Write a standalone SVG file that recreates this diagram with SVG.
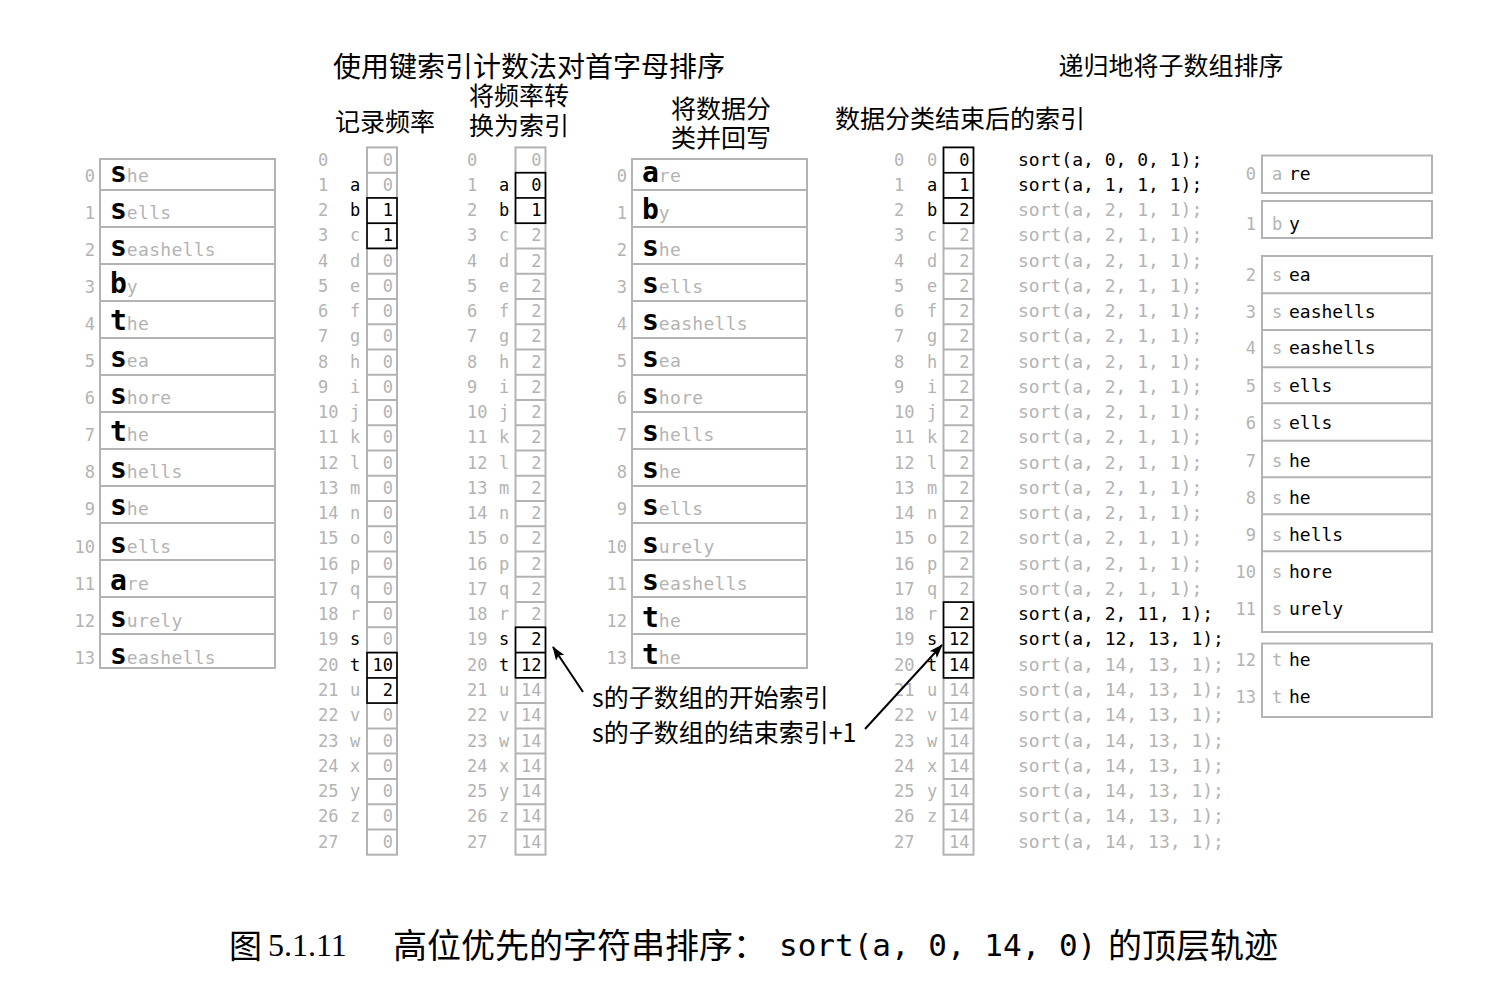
<svg xmlns="http://www.w3.org/2000/svg" xmlns:xlink="http://www.w3.org/1999/xlink" width="1504" height="1000" viewBox="0 0 1504 1000">
<style>
.g{fill:#b3b3b3}
.k{fill:#000}
.m{font-family:"DejaVu Sans Mono","Liberation Mono",monospace}
.n{font-size:17px}
.w{font-size:18px}
.bl{font-size:28px;font-weight:bold;fill:#000}
.rest{font-size:18px;fill:#b3b3b3;letter-spacing:0.3px}
.cj{font-family:"Noto Sans CJK SC","Noto Sans",sans-serif;fill:#000}
.box{fill:none;stroke:#b3b3b3;stroke-width:2}
.hb{fill:none;stroke:#000;stroke-width:1.6}
.e{text-anchor:end}
.c{text-anchor:middle}
.arr{stroke:#000;stroke-width:2;fill:none;marker-end:url(#ah)}
</style>
<defs>
<marker id="ah" markerWidth="14" markerHeight="10" refX="13" refY="5" orient="auto" markerUnits="userSpaceOnUse"><path d="M0,0 L14,5 L0,10 L3,5 z" fill="#000"/></marker>
<g id="grid"><rect class="box" x="0" y="147.4" width="30" height="707.3"/><path class="box" d="M0 172.7H30M0 197.9H30M0 223.2H30M0 248.4H30M0 273.7H30M0 299H30M0 324.2H30M0 349.5H30M0 374.7H30M0 400H30M0 425.3H30M0 450.5H30M0 475.8H30M0 501H30M0 526.3H30M0 551.6H30M0 576.8H30M0 602.1H30M0 627.3H30M0 652.6H30M0 677.9H30M0 703.1H30M0 728.4H30M0 753.6H30M0 778.9H30M0 804.2H30M0 829.4H30"/></g>
</defs>
<rect width="1504" height="1000" fill="#fff"/>

<g id="titles" class="cj">
<text x="529" y="77" font-size="28" class="c">使用键索引计数法对首字母排序</text>
<text x="1171" y="75" font-size="25" class="c">递归地将子数组排序</text>
<text x="385" y="131" font-size="25" class="c">记录频率</text>
<text x="519" y="105" font-size="25" class="c">将频率转</text>
<text x="519" y="135" font-size="25" class="c">换为索引</text>
<text x="721" y="118" font-size="25" class="c">将数据分</text>
<text x="721" y="147" font-size="25" class="c">类并回写</text>
<text x="960" y="128" font-size="25" class="c">数据分类结束后的索引</text>
</g>

<g id="input-array">
<rect class="box" x="100" y="159" width="175" height="509"/>
<path class="box" d="M100 190H275M100 227H275M100 264H275M100 301H275M100 338H275M100 375H275M100 412H275M100 449H275M100 486H275M100 523H275M100 560H275M100 597H275M100 634H275"/>
<text class="m n g e"><tspan x="95" y="181.5">0</tspan><tspan x="95" y="218.6">1</tspan><tspan x="95" y="255.7">2</tspan><tspan x="95" y="292.8">3</tspan><tspan x="95" y="329.9">4</tspan><tspan x="95" y="367">5</tspan><tspan x="95" y="404.1">6</tspan><tspan x="95" y="441.2">7</tspan><tspan x="95" y="478.3">8</tspan><tspan x="95" y="515.4">9</tspan><tspan x="95" y="552.5">10</tspan><tspan x="95" y="589.6">11</tspan><tspan x="95" y="626.7">12</tspan><tspan x="95" y="663.8">13</tspan></text>
<text class="m" x="110" y="181.5"><tspan class="bl">s</tspan><tspan class="rest">he</tspan></text>
<text class="m" x="110" y="218.6"><tspan class="bl">s</tspan><tspan class="rest">ells</tspan></text>
<text class="m" x="110" y="255.7"><tspan class="bl">s</tspan><tspan class="rest">eashells</tspan></text>
<text class="m" x="110" y="292.8"><tspan class="bl">b</tspan><tspan class="rest">y</tspan></text>
<text class="m" x="110" y="329.9"><tspan class="bl">t</tspan><tspan class="rest">he</tspan></text>
<text class="m" x="110" y="367"><tspan class="bl">s</tspan><tspan class="rest">ea</tspan></text>
<text class="m" x="110" y="404.1"><tspan class="bl">s</tspan><tspan class="rest">hore</tspan></text>
<text class="m" x="110" y="441.2"><tspan class="bl">t</tspan><tspan class="rest">he</tspan></text>
<text class="m" x="110" y="478.3"><tspan class="bl">s</tspan><tspan class="rest">hells</tspan></text>
<text class="m" x="110" y="515.4"><tspan class="bl">s</tspan><tspan class="rest">he</tspan></text>
<text class="m" x="110" y="552.5"><tspan class="bl">s</tspan><tspan class="rest">ells</tspan></text>
<text class="m" x="110" y="589.6"><tspan class="bl">a</tspan><tspan class="rest">re</tspan></text>
<text class="m" x="110" y="626.7"><tspan class="bl">s</tspan><tspan class="rest">urely</tspan></text>
<text class="m" x="110" y="663.8"><tspan class="bl">s</tspan><tspan class="rest">eashells</tspan></text>
</g>

<g id="count-frequencies">
<use href="#grid" xlink:href="#grid" x="367"/>
<rect class="hb" x="367" y="197.9" width="30" height="50.5"/><path class="hb" d="M367 223.2H397"/>
<rect class="hb" x="367" y="652.6" width="30" height="50.5"/><path class="hb" d="M367 677.9H397"/>
<text class="m n g"><tspan x="318" y="165.5">0</tspan><tspan x="318" y="190.8">1</tspan><tspan x="318" y="216">2</tspan><tspan x="318" y="241.3">3</tspan><tspan x="318" y="266.5">4</tspan><tspan x="318" y="291.8">5</tspan><tspan x="318" y="317.1">6</tspan><tspan x="318" y="342.3">7</tspan><tspan x="318" y="367.6">8</tspan><tspan x="318" y="392.8">9</tspan><tspan x="318" y="418.1">10</tspan><tspan x="318" y="443.4">11</tspan><tspan x="318" y="468.6">12</tspan><tspan x="318" y="493.9">13</tspan><tspan x="318" y="519.1">14</tspan><tspan x="318" y="544.4">15</tspan><tspan x="318" y="569.7">16</tspan><tspan x="318" y="594.9">17</tspan><tspan x="318" y="620.2">18</tspan><tspan x="318" y="645.4">19</tspan><tspan x="318" y="670.7">20</tspan><tspan x="318" y="696">21</tspan><tspan x="318" y="721.2">22</tspan><tspan x="318" y="746.5">23</tspan><tspan x="318" y="771.7">24</tspan><tspan x="318" y="797">25</tspan><tspan x="318" y="822.3">26</tspan><tspan x="318" y="847.5">27</tspan></text>
<text class="m n g c"><tspan x="355" y="241.3">c</tspan><tspan x="355" y="266.5">d</tspan><tspan x="355" y="291.8">e</tspan><tspan x="355" y="317.1">f</tspan><tspan x="355" y="342.3">g</tspan><tspan x="355" y="367.6">h</tspan><tspan x="355" y="392.8">i</tspan><tspan x="355" y="418.1">j</tspan><tspan x="355" y="443.4">k</tspan><tspan x="355" y="468.6">l</tspan><tspan x="355" y="493.9">m</tspan><tspan x="355" y="519.1">n</tspan><tspan x="355" y="544.4">o</tspan><tspan x="355" y="569.7">p</tspan><tspan x="355" y="594.9">q</tspan><tspan x="355" y="620.2">r</tspan><tspan x="355" y="696">u</tspan><tspan x="355" y="721.2">v</tspan><tspan x="355" y="746.5">w</tspan><tspan x="355" y="771.7">x</tspan><tspan x="355" y="797">y</tspan><tspan x="355" y="822.3">z</tspan></text>
<text class="m n k c"><tspan x="355" y="190.8">a</tspan><tspan x="355" y="216">b</tspan><tspan x="355" y="645.4">s</tspan><tspan x="355" y="670.7">t</tspan></text>
<text class="m n g e"><tspan x="393" y="165.5">0</tspan><tspan x="393" y="190.8">0</tspan><tspan x="393" y="266.5">0</tspan><tspan x="393" y="291.8">0</tspan><tspan x="393" y="317.1">0</tspan><tspan x="393" y="342.3">0</tspan><tspan x="393" y="367.6">0</tspan><tspan x="393" y="392.8">0</tspan><tspan x="393" y="418.1">0</tspan><tspan x="393" y="443.4">0</tspan><tspan x="393" y="468.6">0</tspan><tspan x="393" y="493.9">0</tspan><tspan x="393" y="519.1">0</tspan><tspan x="393" y="544.4">0</tspan><tspan x="393" y="569.7">0</tspan><tspan x="393" y="594.9">0</tspan><tspan x="393" y="620.2">0</tspan><tspan x="393" y="645.4">0</tspan><tspan x="393" y="721.2">0</tspan><tspan x="393" y="746.5">0</tspan><tspan x="393" y="771.7">0</tspan><tspan x="393" y="797">0</tspan><tspan x="393" y="822.3">0</tspan><tspan x="393" y="847.5">0</tspan></text>
<text class="m n k e"><tspan x="393" y="216">1</tspan><tspan x="393" y="241.3">1</tspan><tspan x="393" y="670.7">10</tspan><tspan x="393" y="696">2</tspan></text>
</g>

<g id="frequencies-to-indices">
<use href="#grid" xlink:href="#grid" x="515.5"/>
<rect class="hb" x="515.5" y="172.7" width="30" height="50.5"/><path class="hb" d="M515.5 197.9H545.5"/>
<rect class="hb" x="515.5" y="627.3" width="30" height="50.5"/><path class="hb" d="M515.5 652.6H545.5"/>
<text class="m n g"><tspan x="467" y="165.5">0</tspan><tspan x="467" y="190.8">1</tspan><tspan x="467" y="216">2</tspan><tspan x="467" y="241.3">3</tspan><tspan x="467" y="266.5">4</tspan><tspan x="467" y="291.8">5</tspan><tspan x="467" y="317.1">6</tspan><tspan x="467" y="342.3">7</tspan><tspan x="467" y="367.6">8</tspan><tspan x="467" y="392.8">9</tspan><tspan x="467" y="418.1">10</tspan><tspan x="467" y="443.4">11</tspan><tspan x="467" y="468.6">12</tspan><tspan x="467" y="493.9">13</tspan><tspan x="467" y="519.1">14</tspan><tspan x="467" y="544.4">15</tspan><tspan x="467" y="569.7">16</tspan><tspan x="467" y="594.9">17</tspan><tspan x="467" y="620.2">18</tspan><tspan x="467" y="645.4">19</tspan><tspan x="467" y="670.7">20</tspan><tspan x="467" y="696">21</tspan><tspan x="467" y="721.2">22</tspan><tspan x="467" y="746.5">23</tspan><tspan x="467" y="771.7">24</tspan><tspan x="467" y="797">25</tspan><tspan x="467" y="822.3">26</tspan><tspan x="467" y="847.5">27</tspan></text>
<text class="m n g c"><tspan x="504" y="241.3">c</tspan><tspan x="504" y="266.5">d</tspan><tspan x="504" y="291.8">e</tspan><tspan x="504" y="317.1">f</tspan><tspan x="504" y="342.3">g</tspan><tspan x="504" y="367.6">h</tspan><tspan x="504" y="392.8">i</tspan><tspan x="504" y="418.1">j</tspan><tspan x="504" y="443.4">k</tspan><tspan x="504" y="468.6">l</tspan><tspan x="504" y="493.9">m</tspan><tspan x="504" y="519.1">n</tspan><tspan x="504" y="544.4">o</tspan><tspan x="504" y="569.7">p</tspan><tspan x="504" y="594.9">q</tspan><tspan x="504" y="620.2">r</tspan><tspan x="504" y="696">u</tspan><tspan x="504" y="721.2">v</tspan><tspan x="504" y="746.5">w</tspan><tspan x="504" y="771.7">x</tspan><tspan x="504" y="797">y</tspan><tspan x="504" y="822.3">z</tspan></text>
<text class="m n k c"><tspan x="504" y="190.8">a</tspan><tspan x="504" y="216">b</tspan><tspan x="504" y="645.4">s</tspan><tspan x="504" y="670.7">t</tspan></text>
<text class="m n g e"><tspan x="541.5" y="165.5">0</tspan><tspan x="541.5" y="241.3">2</tspan><tspan x="541.5" y="266.5">2</tspan><tspan x="541.5" y="291.8">2</tspan><tspan x="541.5" y="317.1">2</tspan><tspan x="541.5" y="342.3">2</tspan><tspan x="541.5" y="367.6">2</tspan><tspan x="541.5" y="392.8">2</tspan><tspan x="541.5" y="418.1">2</tspan><tspan x="541.5" y="443.4">2</tspan><tspan x="541.5" y="468.6">2</tspan><tspan x="541.5" y="493.9">2</tspan><tspan x="541.5" y="519.1">2</tspan><tspan x="541.5" y="544.4">2</tspan><tspan x="541.5" y="569.7">2</tspan><tspan x="541.5" y="594.9">2</tspan><tspan x="541.5" y="620.2">2</tspan><tspan x="541.5" y="696">14</tspan><tspan x="541.5" y="721.2">14</tspan><tspan x="541.5" y="746.5">14</tspan><tspan x="541.5" y="771.7">14</tspan><tspan x="541.5" y="797">14</tspan><tspan x="541.5" y="822.3">14</tspan><tspan x="541.5" y="847.5">14</tspan></text>
<text class="m n k e"><tspan x="541.5" y="190.8">0</tspan><tspan x="541.5" y="216">1</tspan><tspan x="541.5" y="645.4">2</tspan><tspan x="541.5" y="670.7">12</tspan></text>
</g>

<g id="distributed-array">
<rect class="box" x="632" y="159" width="175" height="509"/>
<path class="box" d="M632 190H807M632 227H807M632 264H807M632 301H807M632 338H807M632 375H807M632 412H807M632 449H807M632 486H807M632 523H807M632 560H807M632 597H807M632 634H807"/>
<text class="m n g e"><tspan x="627" y="181.5">0</tspan><tspan x="627" y="218.6">1</tspan><tspan x="627" y="255.7">2</tspan><tspan x="627" y="292.8">3</tspan><tspan x="627" y="329.9">4</tspan><tspan x="627" y="367">5</tspan><tspan x="627" y="404.1">6</tspan><tspan x="627" y="441.2">7</tspan><tspan x="627" y="478.3">8</tspan><tspan x="627" y="515.4">9</tspan><tspan x="627" y="552.5">10</tspan><tspan x="627" y="589.6">11</tspan><tspan x="627" y="626.7">12</tspan><tspan x="627" y="663.8">13</tspan></text>
<text class="m" x="642" y="181.5"><tspan class="bl">a</tspan><tspan class="rest">re</tspan></text>
<text class="m" x="642" y="218.6"><tspan class="bl">b</tspan><tspan class="rest">y</tspan></text>
<text class="m" x="642" y="255.7"><tspan class="bl">s</tspan><tspan class="rest">he</tspan></text>
<text class="m" x="642" y="292.8"><tspan class="bl">s</tspan><tspan class="rest">ells</tspan></text>
<text class="m" x="642" y="329.9"><tspan class="bl">s</tspan><tspan class="rest">eashells</tspan></text>
<text class="m" x="642" y="367"><tspan class="bl">s</tspan><tspan class="rest">ea</tspan></text>
<text class="m" x="642" y="404.1"><tspan class="bl">s</tspan><tspan class="rest">hore</tspan></text>
<text class="m" x="642" y="441.2"><tspan class="bl">s</tspan><tspan class="rest">hells</tspan></text>
<text class="m" x="642" y="478.3"><tspan class="bl">s</tspan><tspan class="rest">he</tspan></text>
<text class="m" x="642" y="515.4"><tspan class="bl">s</tspan><tspan class="rest">ells</tspan></text>
<text class="m" x="642" y="552.5"><tspan class="bl">s</tspan><tspan class="rest">urely</tspan></text>
<text class="m" x="642" y="589.6"><tspan class="bl">s</tspan><tspan class="rest">eashells</tspan></text>
<text class="m" x="642" y="626.7"><tspan class="bl">t</tspan><tspan class="rest">he</tspan></text>
<text class="m" x="642" y="663.8"><tspan class="bl">t</tspan><tspan class="rest">he</tspan></text>
</g>

<g id="final-indices">
<use href="#grid" xlink:href="#grid" x="943.5"/>
<rect class="hb" x="943.5" y="147.4" width="30" height="75.8"/><path class="hb" d="M943.5 172.7H973.5M943.5 197.9H973.5"/>
<rect class="hb" x="943.5" y="602.1" width="30" height="75.8"/><path class="hb" d="M943.5 627.3H973.5M943.5 652.6H973.5"/>
<text class="m n g"><tspan x="894" y="165.5">0</tspan><tspan x="894" y="190.8">1</tspan><tspan x="894" y="216">2</tspan><tspan x="894" y="241.3">3</tspan><tspan x="894" y="266.5">4</tspan><tspan x="894" y="291.8">5</tspan><tspan x="894" y="317.1">6</tspan><tspan x="894" y="342.3">7</tspan><tspan x="894" y="367.6">8</tspan><tspan x="894" y="392.8">9</tspan><tspan x="894" y="418.1">10</tspan><tspan x="894" y="443.4">11</tspan><tspan x="894" y="468.6">12</tspan><tspan x="894" y="493.9">13</tspan><tspan x="894" y="519.1">14</tspan><tspan x="894" y="544.4">15</tspan><tspan x="894" y="569.7">16</tspan><tspan x="894" y="594.9">17</tspan><tspan x="894" y="620.2">18</tspan><tspan x="894" y="645.4">19</tspan><tspan x="894" y="670.7">20</tspan><tspan x="894" y="696">21</tspan><tspan x="894" y="721.2">22</tspan><tspan x="894" y="746.5">23</tspan><tspan x="894" y="771.7">24</tspan><tspan x="894" y="797">25</tspan><tspan x="894" y="822.3">26</tspan><tspan x="894" y="847.5">27</tspan></text>
<text class="m n g c"><tspan x="932" y="165.5">0</tspan><tspan x="932" y="241.3">c</tspan><tspan x="932" y="266.5">d</tspan><tspan x="932" y="291.8">e</tspan><tspan x="932" y="317.1">f</tspan><tspan x="932" y="342.3">g</tspan><tspan x="932" y="367.6">h</tspan><tspan x="932" y="392.8">i</tspan><tspan x="932" y="418.1">j</tspan><tspan x="932" y="443.4">k</tspan><tspan x="932" y="468.6">l</tspan><tspan x="932" y="493.9">m</tspan><tspan x="932" y="519.1">n</tspan><tspan x="932" y="544.4">o</tspan><tspan x="932" y="569.7">p</tspan><tspan x="932" y="594.9">q</tspan><tspan x="932" y="620.2">r</tspan><tspan x="932" y="696">u</tspan><tspan x="932" y="721.2">v</tspan><tspan x="932" y="746.5">w</tspan><tspan x="932" y="771.7">x</tspan><tspan x="932" y="797">y</tspan><tspan x="932" y="822.3">z</tspan></text>
<text class="m n k c"><tspan x="932" y="190.8">a</tspan><tspan x="932" y="216">b</tspan><tspan x="932" y="645.4">s</tspan><tspan x="932" y="670.7">t</tspan></text>
<text class="m n g e"><tspan x="969.5" y="241.3">2</tspan><tspan x="969.5" y="266.5">2</tspan><tspan x="969.5" y="291.8">2</tspan><tspan x="969.5" y="317.1">2</tspan><tspan x="969.5" y="342.3">2</tspan><tspan x="969.5" y="367.6">2</tspan><tspan x="969.5" y="392.8">2</tspan><tspan x="969.5" y="418.1">2</tspan><tspan x="969.5" y="443.4">2</tspan><tspan x="969.5" y="468.6">2</tspan><tspan x="969.5" y="493.9">2</tspan><tspan x="969.5" y="519.1">2</tspan><tspan x="969.5" y="544.4">2</tspan><tspan x="969.5" y="569.7">2</tspan><tspan x="969.5" y="594.9">2</tspan><tspan x="969.5" y="696">14</tspan><tspan x="969.5" y="721.2">14</tspan><tspan x="969.5" y="746.5">14</tspan><tspan x="969.5" y="771.7">14</tspan><tspan x="969.5" y="797">14</tspan><tspan x="969.5" y="822.3">14</tspan><tspan x="969.5" y="847.5">14</tspan></text>
<text class="m n k e"><tspan x="969.5" y="165.5">0</tspan><tspan x="969.5" y="190.8">1</tspan><tspan x="969.5" y="216">2</tspan><tspan x="969.5" y="620.2">2</tspan><tspan x="969.5" y="645.4">12</tspan><tspan x="969.5" y="670.7">14</tspan></text>
</g>

<g id="sort-calls">
<text class="m w k"><tspan x="1018" y="165.5">sort(a, 0, 0, 1);</tspan><tspan x="1018" y="190.8">sort(a, 1, 1, 1);</tspan><tspan x="1018" y="620.2">sort(a, 2, 11, 1);</tspan><tspan x="1018" y="645.4">sort(a, 12, 13, 1);</tspan></text>
<text class="m w g"><tspan x="1018" y="216">sort(a, 2, 1, 1);</tspan><tspan x="1018" y="241.3">sort(a, 2, 1, 1);</tspan><tspan x="1018" y="266.5">sort(a, 2, 1, 1);</tspan><tspan x="1018" y="291.8">sort(a, 2, 1, 1);</tspan><tspan x="1018" y="317.1">sort(a, 2, 1, 1);</tspan><tspan x="1018" y="342.3">sort(a, 2, 1, 1);</tspan><tspan x="1018" y="367.6">sort(a, 2, 1, 1);</tspan><tspan x="1018" y="392.8">sort(a, 2, 1, 1);</tspan><tspan x="1018" y="418.1">sort(a, 2, 1, 1);</tspan><tspan x="1018" y="443.4">sort(a, 2, 1, 1);</tspan><tspan x="1018" y="468.6">sort(a, 2, 1, 1);</tspan><tspan x="1018" y="493.9">sort(a, 2, 1, 1);</tspan><tspan x="1018" y="519.1">sort(a, 2, 1, 1);</tspan><tspan x="1018" y="544.4">sort(a, 2, 1, 1);</tspan><tspan x="1018" y="569.7">sort(a, 2, 1, 1);</tspan><tspan x="1018" y="594.9">sort(a, 2, 1, 1);</tspan><tspan x="1018" y="670.7">sort(a, 14, 13, 1);</tspan><tspan x="1018" y="696">sort(a, 14, 13, 1);</tspan><tspan x="1018" y="721.2">sort(a, 14, 13, 1);</tspan><tspan x="1018" y="746.5">sort(a, 14, 13, 1);</tspan><tspan x="1018" y="771.7">sort(a, 14, 13, 1);</tspan><tspan x="1018" y="797">sort(a, 14, 13, 1);</tspan><tspan x="1018" y="822.3">sort(a, 14, 13, 1);</tspan><tspan x="1018" y="847.5">sort(a, 14, 13, 1);</tspan></text>
</g>

<g id="recursive-result">
<rect class="box" x="1262" y="155.5" width="170" height="37.5"/>
<rect class="box" x="1262" y="201" width="170" height="37"/>
<rect class="box" x="1262" y="256" width="170" height="376"/>
<path class="box" d="M1262 293.3H1432M1262 330H1432M1262 367.3H1432M1262 403.3H1432M1262 440.7H1432M1262 477.3H1432M1262 514.3H1432M1262 551.3H1432"/>
<rect class="box" x="1262" y="643.5" width="170" height="73.5"/>
<text class="m n g e"><tspan x="1256" y="180">0</tspan><tspan x="1256" y="230">1</tspan><tspan x="1256" y="281">2</tspan><tspan x="1256" y="317.5">3</tspan><tspan x="1256" y="354">4</tspan><tspan x="1256" y="391.5">5</tspan><tspan x="1256" y="429">6</tspan><tspan x="1256" y="467">7</tspan><tspan x="1256" y="503.5">8</tspan><tspan x="1256" y="540.5">9</tspan><tspan x="1256" y="578">10</tspan><tspan x="1256" y="614.5">11</tspan><tspan x="1256" y="666">12</tspan><tspan x="1256" y="703">13</tspan></text>
<text class="m n g"><tspan x="1272" y="180">a</tspan><tspan x="1272" y="230">b</tspan><tspan x="1272" y="281">s</tspan><tspan x="1272" y="317.5">s</tspan><tspan x="1272" y="354">s</tspan><tspan x="1272" y="391.5">s</tspan><tspan x="1272" y="429">s</tspan><tspan x="1272" y="467">s</tspan><tspan x="1272" y="503.5">s</tspan><tspan x="1272" y="540.5">s</tspan><tspan x="1272" y="578">s</tspan><tspan x="1272" y="614.5">s</tspan><tspan x="1272" y="666">t</tspan><tspan x="1272" y="703">t</tspan></text>
<text class="m w k"><tspan x="1289" y="180">re</tspan><tspan x="1289" y="230">y</tspan><tspan x="1289" y="281">ea</tspan><tspan x="1289" y="317.5">eashells</tspan><tspan x="1289" y="354">eashells</tspan><tspan x="1289" y="391.5">ells</tspan><tspan x="1289" y="429">ells</tspan><tspan x="1289" y="467">he</tspan><tspan x="1289" y="503.5">he</tspan><tspan x="1289" y="540.5">hells</tspan><tspan x="1289" y="578">hore</tspan><tspan x="1289" y="614.5">urely</tspan><tspan x="1289" y="666">he</tspan><tspan x="1289" y="703">he</tspan></text>
</g>

<g id="annotation" class="cj">
<text x="592" y="707" font-size="25">s的子数组的开始索引</text>
<text x="592" y="742" font-size="25">s的子数组的结束索引+1</text>
</g>

<g id="connectors">
<line class="arr" x1="583" y1="692" x2="553" y2="647"/>
<line class="arr" x1="865" y1="729" x2="942" y2="645"/>
</g>

<g id="caption">
<text x="229" y="958" font-family="'Noto Sans CJK SC',sans-serif" font-size="33">图</text>
<text x="268" y="956" font-family="'Liberation Serif',serif" font-size="32">5.1.11</text>
<text x="393" y="958" class="cj" font-size="34">高位优先的字符串排序：</text>
<text x="779" y="956" class="m" font-size="31">sort(a, 0, 14, 0)</text>
<text x="1108" y="958" class="cj" font-size="34">的顶层轨迹</text>
</g>
</svg>
